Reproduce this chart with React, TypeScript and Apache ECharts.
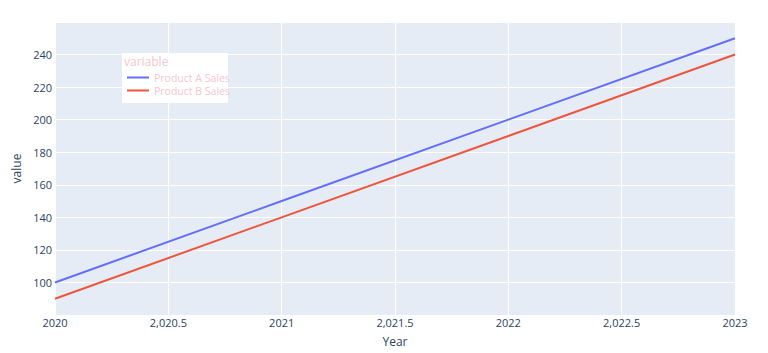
import React, { useEffect, useRef } from "react";
import * as echarts from "echarts";

const years = [2020, 2021, 2022, 2023];
const productA = [100, 150, 200, 250];
const productB = [90, 140, 190, 240];
const seriesNames = ["Product A Sales", "Product B Sales"];
const colors = ["#636efa", "#EF553B"];

const FONT = "'Open Sans', 'Noto Sans', sans-serif";

export default function App() {
  const ref = useRef<HTMLDivElement>(null);
  useEffect(() => {
    if (!ref.current) return;
    const chart = echarts.init(ref.current, undefined, { renderer: "svg" });
    const fmtX = (v: number) =>
      Number.isInteger(v) ? String(v) : v.toLocaleString("en-US", { minimumFractionDigits: 1 });
    chart.setOption({
      animation: false,
      backgroundColor: "#ffffff",
      textStyle: { fontFamily: FONT },
      grid: {
        left: 55,
        right: 33,
        top: 22,
        bottom: 38,
        backgroundColor: "#E5ECF6",
        show: true,
        borderWidth: 0,
        containLabel: false,
        outerBoundsMode: "none",
      },
      xAxis: {
        type: "value",
        min: 2020,
        max: 2023,
        interval: 0.5,
        name: "Year",
        nameLocation: "middle",
        nameGap: 20,
        nameMoveOverlap: false,
        nameTextStyle: { color: "#2a3f5f", fontSize: 12, fontFamily: FONT },
        axisLine: { show: false },
        axisTick: { show: false },
        axisLabel: { color: "#2a3f5f", fontSize: 11, margin: 2, formatter: fmtX, fontFamily: FONT },
        splitLine: { show: true, lineStyle: { color: "#ffffff", width: 1 } },
      },
      yAxis: {
        type: "value",
        min: 80,
        max: 260,
        interval: 20,
        name: "value",
        nameLocation: "middle",
        nameGap: 33,
        nameMoveOverlap: false,
        nameTextStyle: { color: "#2a3f5f", fontSize: 12, fontFamily: FONT },
        axisLine: { show: false },
        axisTick: { show: false },
        axisLabel: {
          color: "#2a3f5f",
          fontSize: 11,
          margin: 3,
          fontFamily: FONT,
          formatter: (v: number) => (v >= 100 && v <= 240 ? String(v) : ""),
        },
        splitLine: { show: true, lineStyle: { color: "#ffffff", width: 1 } },
      },
      legend: {
        left: 127,
        top: 72,
        orient: "vertical",
        icon: "rect",
        itemWidth: 22,
        itemHeight: 2,
        itemGap: 2,
        padding: 0,
        textStyle: { color: "#f7c6d0", fontSize: 10.5, fontFamily: FONT },
        data: seriesNames,
      },
      graphic: [
        { type: "rect", left: 122, top: 53, shape: { width: 106, height: 50 }, style: { fill: "#ffffff" }, z: 0 },
        { type: "text", left: 124, top: 55, style: { text: "variable", fill: "#f7c6d0", fontSize: 12, fontFamily: FONT }, z: 1 },
      ],
      series: [
        {
          name: seriesNames[0],
          type: "line",
          data: years.map((y, i) => [y, productA[i]]),
          showSymbol: false,
          lineStyle: { color: colors[0], width: 2 },
          itemStyle: { color: colors[0] },
        },
        {
          name: seriesNames[1],
          type: "line",
          data: years.map((y, i) => [y, productB[i]]),
          showSymbol: false,
          lineStyle: { color: colors[1], width: 2 },
          itemStyle: { color: colors[1] },
        },
      ],
    });
    return () => chart.dispose();
  }, []);
  return <div ref={ref} style={{ width: 768, height: 353, position: "absolute", left: 0, top: 0 }} />;
}
